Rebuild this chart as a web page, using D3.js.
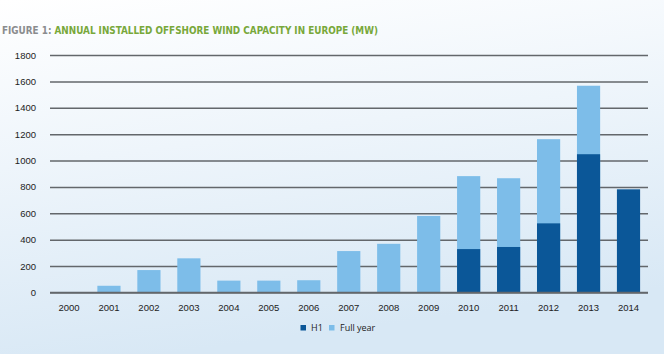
<!DOCTYPE html>
<html lang="en">
<head>
<meta charset="UTF-8">
<title>Offshore wind</title>
<script src="https://d3js.org/d3.v7.min.js"></script>
<style>
body { margin: 0; }
svg { display: block; font-family: "Open Sans", "DejaVu Sans", sans-serif; }
.grid line { stroke: #63676b; stroke-width: 1.5; }
.tick text { fill: #222; font-size: 9.5px; }
</style>
</head>
<body>
<svg width="664" height="354"></svg>
<script>
const years = ["2000","2001","2002","2003","2004","2005","2006","2007","2008","2009","2010","2011","2012","2013","2014"];
// total installed in the full year (0 where only H1 shown)
const fullYear = [4, 51, 170, 259, 90, 90, 93, 314, 369, 580, 882, 866, 1162, 1567, 0];
// installed in the first half
const h1 = [0, 0, 0, 0, 0, 0, 0, 0, 0, 0, 329, 345, 524, 1048, 782];
const yTicks = [0, 200, 400, 600, 800, 1000, 1200, 1400, 1600, 1800];

const svg = d3.select("svg");

// background gradient
const defs = svg.append("defs");
const grad = defs.append("linearGradient").attr("id", "bg")
    .attr("x1", 0).attr("y1", 0).attr("x2", 0.25).attr("y2", 1);
grad.append("stop").attr("offset", "0%").attr("stop-color", "#ffffff");
grad.append("stop").attr("offset", "45%").attr("stop-color", "#eef5fb");
grad.append("stop").attr("offset", "100%").attr("stop-color", "#d8e8f5");
svg.append("rect").attr("width", 664).attr("height", 354).attr("fill", "url(#bg)");

// title
const title = svg.append("text")
    .attr("x", 2).attr("y", 34)
    .attr("font-family", "'Liberation Sans Narrow', 'DejaVu Sans Condensed', sans-serif")
    .attr("font-size", 10.5).attr("font-weight", "bold")
    .attr("textLength", 376).attr("lengthAdjust", "spacingAndGlyphs");
title.append("tspan").attr("fill", "#8a8c8e").text("FIGURE 1: ");
title.append("tspan").attr("fill", "#78a83a").text("ANNUAL INSTALLED OFFSHORE WIND CAPACITY IN EUROPE (MW)");

const x = d3.scaleBand().domain(years).range([49, 648.5]).paddingInner(0.42).paddingOuter(0.21);
const y = d3.scaleLinear().domain([0, 1800]).range([292.5, 55]);

// gridlines + y labels
const gy = svg.append("g").attr("class", "grid")
    .attr("transform", "translate(50,0)")
    .call(d3.axisLeft(y).tickValues(yTicks).tickFormat(d3.format("d")).tickSize(-598).tickPadding(14));
gy.select(".domain").remove();
gy.selectAll(".tick text").attr("x", -14);

// full-year bars
svg.append("g").selectAll("rect").data(years).join("rect")
    .attr("x", d => x(d))
    .attr("width", x.bandwidth())
    .attr("y", (d, i) => y(fullYear[i]))
    .attr("height", (d, i) => y(0) - y(fullYear[i]))
    .attr("fill", "#7dbde9");

// H1 bars
svg.append("g").selectAll("rect").data(years).join("rect")
    .attr("x", d => x(d))
    .attr("width", x.bandwidth())
    .attr("y", (d, i) => y(h1[i]))
    .attr("height", (d, i) => y(0) - y(h1[i]))
    .attr("fill", "#0b5798");

// baseline
svg.append("line").attr("x1", 50).attr("x2", 648).attr("y1", y(0)).attr("y2", y(0))
    .attr("stroke", "#63676b").attr("stroke-width", 1.5);

// x axis labels
const gx = svg.append("g")
    .attr("transform", `translate(0,${y(0)})`)
    .call(d3.axisBottom(x).tickSize(0).tickPadding(12));
gx.select(".domain").remove();

// legend
const legend = [["H1", "#0b5798", 300.5, 311], ["Full year", "#7dbde9", 329, 340]];
const lg = svg.append("g");
legend.forEach(([name, color, sx, tx]) => {
    lg.append("rect").attr("x", sx).attr("y", 325).attr("width", 5.5).attr("height", 5.5).attr("fill", color);
    lg.append("text").attr("x", tx).attr("y", 331).attr("font-size", 9).attr("fill", "#222").text(name);
});
</script>
</body>
</html>
